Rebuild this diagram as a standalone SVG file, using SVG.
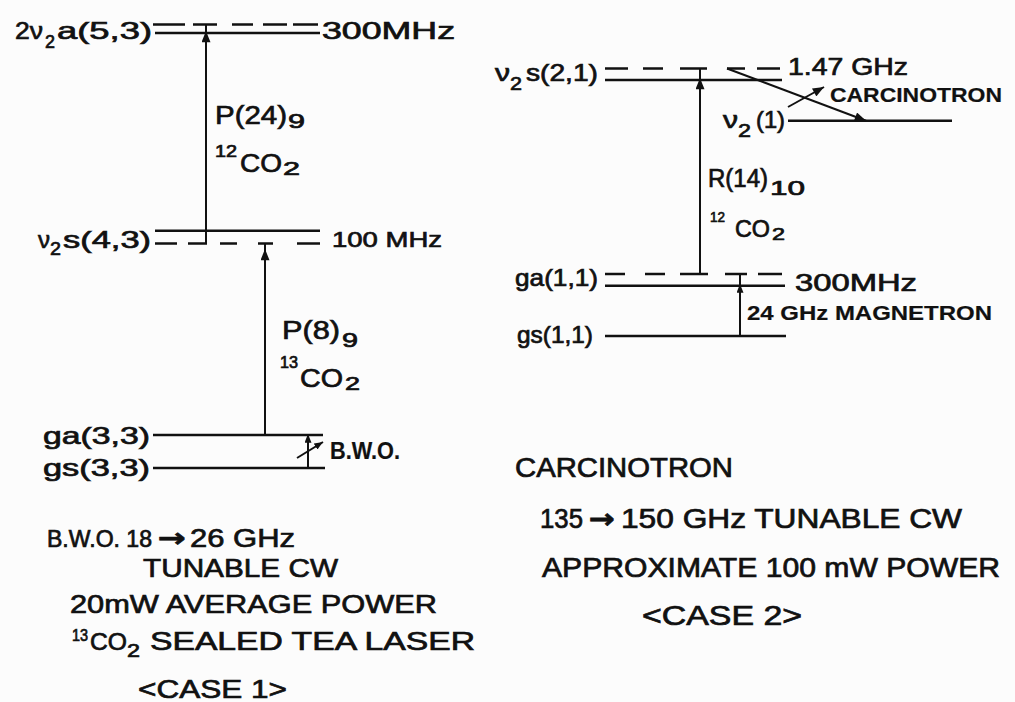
<svg xmlns="http://www.w3.org/2000/svg" width="1015" height="702" viewBox="0 0 1015 702">
<style>
  .bg { fill: #fcfcfc; }
  .lv { stroke: #111; stroke-width: 2.6; fill: none; stroke-linecap: butt; }
  .tr { stroke: #111; stroke-width: 2; fill: none; }
  text { font-family: "Liberation Sans", Arial, sans-serif; fill: #111; stroke: #111; stroke-width: 0.7; }
  .lbl { font-size: 24px; }
  .sub { font-size: 19px; }
  .trn { font-size: 26px; }
  .bld { font-size: 21px; font-weight: bold; stroke-width: 0.2; }
  .nl { font-size: 26px; }
  .nr { font-size: 27px; }
  .arw { font-family: "DejaVu Sans", sans-serif; font-weight: bold; }
</style>
<defs>
  <marker id="ah" viewBox="0 0 10 8" refX="10" refY="4" markerUnits="userSpaceOnUse" markerWidth="12" markerHeight="9" orient="auto">
    <path d="M0,0 L10,4 L0,8 z" fill="#111"/>
  </marker>
  <marker id="ahs" viewBox="0 0 10 8" refX="10" refY="4" markerUnits="userSpaceOnUse" markerWidth="9" markerHeight="7" orient="auto">
    <path d="M0,0 L10,4 L0,8 z" fill="#111"/>
  </marker>
</defs>
<rect class="bg" x="0" y="0" width="1015" height="702"/>

<!-- CASE 1 levels -->
<g id="level-2v2a53">
  <path class="lv" d="M155,33 H320"/>
  <path class="lv" d="M153,24.5 H185 M193,24.5 H217 M232,24.5 H253 M263,24.5 H287 M293,24.5 H318"/>
  <text class="lbl"><tspan x="15" y="39" textLength="28" lengthAdjust="spacingAndGlyphs">2ν</tspan><tspan class="sub" x="45" y="48" textLength="10" lengthAdjust="spacingAndGlyphs">2</tspan><tspan x="57" y="39" textLength="95" lengthAdjust="spacingAndGlyphs">a(5,3)</tspan></text>
  <text class="lbl" x="322" y="39" textLength="133" lengthAdjust="spacingAndGlyphs">300MHz</text>
</g>
<g id="level-v2s43">
  <path class="lv" d="M155,230.7 H320"/>
  <path class="lv" d="M155,243.5 H177 M188,243.5 H207 M220,243.5 H237 M258,243.5 H273 M297,243.5 H320"/>
  <text class="lbl"><tspan x="38" y="248" textLength="12" lengthAdjust="spacingAndGlyphs">ν</tspan><tspan class="sub" x="50" y="255" textLength="11" lengthAdjust="spacingAndGlyphs">2</tspan><tspan x="63" y="248" textLength="88" lengthAdjust="spacingAndGlyphs">s(4,3)</tspan></text>
  <text class="lbl" x="332" y="247" style="font-size:22px" textLength="110" lengthAdjust="spacingAndGlyphs">100 MHz</text>
</g>
<g id="level-ga33">
  <path class="lv" d="M153,435 H323"/>
  <text class="lbl" x="43" y="444" textLength="107" lengthAdjust="spacingAndGlyphs">ga(3,3)</text>
</g>
<g id="level-gs33">
  <path class="lv" d="M153,468 H325"/>
  <text class="lbl" x="43" y="476" textLength="107" lengthAdjust="spacingAndGlyphs">gs(3,3)</text>
</g>

<!-- CASE 2 levels -->
<g id="level-v2s21">
  <path class="lv" d="M605,80 H782"/>
  <path class="lv" d="M605,68.5 H628 M643,68.5 H663 M680,68.5 H707 M727,68.5 H745 M757,68.5 H780"/>
  <text class="lbl"><tspan x="495" y="81" textLength="15" lengthAdjust="spacingAndGlyphs">ν</tspan><tspan class="sub" x="510" y="90" textLength="12" lengthAdjust="spacingAndGlyphs">2</tspan><tspan x="526" y="81" textLength="72" lengthAdjust="spacingAndGlyphs">s(2,1)</tspan></text>
  <text class="lbl" x="788" y="75" textLength="120" lengthAdjust="spacingAndGlyphs">1.47 GHz</text>
</g>
<g id="level-v21">
  <path class="lv" d="M788,120.7 H952"/>
  <text class="lbl"><tspan x="723" y="128" textLength="15" lengthAdjust="spacingAndGlyphs">ν</tspan><tspan class="sub" x="738" y="137" textLength="13" lengthAdjust="spacingAndGlyphs">2</tspan><tspan x="756" y="128" textLength="29" lengthAdjust="spacingAndGlyphs">(1)</tspan></text>
</g>
<g id="level-ga11">
  <path class="lv" d="M605,285.7 H785"/>
  <path class="lv" d="M605,274 H625 M645,274 H665 M680,274 H708 M725,274 H747 M758,274 H782"/>
  <text class="lbl" x="515" y="286" textLength="83" lengthAdjust="spacingAndGlyphs">ga(1,1)</text>
  <text class="lbl" x="795" y="291" textLength="122" lengthAdjust="spacingAndGlyphs">300MHz</text>
</g>
<g id="level-gs11">
  <path class="lv" d="M605,336 H786"/>
  <text class="lbl" x="517" y="343" textLength="76" lengthAdjust="spacingAndGlyphs">gs(1,1)</text>
</g>

<!-- connectors -->
<g id="connectors">
  <!-- P(24)9 -->
  <path class="tr" d="M206,243.5 V31" marker-end="url(#ah)"/>
  <path class="tr" d="M206,33 V24.5"/>
  <!-- P(8)9 -->
  <path class="tr" d="M265,435 V249" marker-end="url(#ah)"/>
  <path class="tr" d="M265,250 V243.5"/>
  <!-- B.W.O. -->
  <path class="tr" d="M308,468 V434" marker-end="url(#ahs)"/>
  <path class="tr" d="M297,458 L323,442" marker-end="url(#ahs)"/>
  <!-- R(14)10 -->
  <path class="tr" d="M700,274 V78" marker-end="url(#ah)"/>
  <path class="tr" d="M700,80 V68.5"/>
  <!-- 24 GHz magnetron -->
  <path class="tr" d="M740,336 V284" marker-end="url(#ahs)"/>
  <path class="tr" d="M740,286 V274"/>
  <!-- carcinotron transition -->
  <path class="tr" d="M727,68.5 L866,120.7" marker-end="url(#ah)"/>
  <path class="tr" d="M788,107 L824,87" marker-end="url(#ah)"/>
</g>

<!-- connector labels -->
<g id="label-P24">
  <text class="trn"><tspan x="215" y="124" textLength="72" lengthAdjust="spacingAndGlyphs">P(24)</tspan><tspan x="288" y="128" style="font-size:20px" textLength="17" lengthAdjust="spacingAndGlyphs">9</tspan></text>
  <text class="trn"><tspan x="215" y="157" style="font-size:16px" textLength="22" lengthAdjust="spacingAndGlyphs">12</tspan><tspan x="240" y="172" textLength="42" lengthAdjust="spacingAndGlyphs">CO</tspan><tspan x="283" y="175" style="font-size:18px" textLength="17" lengthAdjust="spacingAndGlyphs">2</tspan></text>
</g>
<g id="label-P8">
  <text class="trn"><tspan x="282" y="339" textLength="58" lengthAdjust="spacingAndGlyphs">P(8)</tspan><tspan x="342" y="347" style="font-size:20px" textLength="16" lengthAdjust="spacingAndGlyphs">9</tspan></text>
  <text class="trn"><tspan x="280" y="368" style="font-size:16px" textLength="18" lengthAdjust="spacingAndGlyphs">13</tspan><tspan x="300" y="387" textLength="43" lengthAdjust="spacingAndGlyphs">CO</tspan><tspan x="345" y="390" style="font-size:18px" textLength="15" lengthAdjust="spacingAndGlyphs">2</tspan></text>
</g>
<g id="label-BWO">
  <text class="bld" x="330" y="459" style="font-size:23px" textLength="70" lengthAdjust="spacingAndGlyphs">B.W.O.</text>
</g>
<g id="label-R14">
  <text class="trn" style="font-size:25px"><tspan x="708" y="187" textLength="60" lengthAdjust="spacingAndGlyphs">R(14)</tspan><tspan x="770" y="195" style="font-size:20px" textLength="35" lengthAdjust="spacingAndGlyphs">10</tspan></text>
  <text class="trn" style="font-size:24px"><tspan x="710" y="222" style="font-size:15px" textLength="15" lengthAdjust="spacingAndGlyphs">12</tspan><tspan x="735" y="237" textLength="35" lengthAdjust="spacingAndGlyphs">CO</tspan><tspan x="772" y="240" style="font-size:17px" textLength="13" lengthAdjust="spacingAndGlyphs">2</tspan></text>
</g>
<g id="label-carcinotron-arrow">
  <text class="bld" x="830" y="102" textLength="172" lengthAdjust="spacingAndGlyphs">CARCINOTRON</text>
</g>
<g id="label-magnetron">
  <text class="bld" x="747" y="320" textLength="245" lengthAdjust="spacingAndGlyphs">24 GHz MAGNETRON</text>
</g>

<!-- CASE 1 notes -->
<g id="notes-case1">
  <text class="nl"><tspan x="47" y="547" style="font-size:23px" textLength="105" lengthAdjust="spacingAndGlyphs">B.W.O. 18</tspan><tspan class="arw" x="158" y="547" textLength="28" lengthAdjust="spacingAndGlyphs">→</tspan><tspan x="190" y="547" textLength="105" lengthAdjust="spacingAndGlyphs">26 GHz</tspan></text>
  <text class="nl" x="143" y="577" textLength="195" lengthAdjust="spacingAndGlyphs">TUNABLE CW</text>
  <text class="nl" x="70" y="613" textLength="367" lengthAdjust="spacingAndGlyphs">20mW AVERAGE POWER</text>
  <text class="nl"><tspan x="72" y="641" style="font-size:16px" textLength="16" lengthAdjust="spacingAndGlyphs">13</tspan><tspan x="90" y="650" style="font-size:24px" textLength="37" lengthAdjust="spacingAndGlyphs">CO</tspan><tspan x="127" y="657" style="font-size:18px" textLength="13" lengthAdjust="spacingAndGlyphs">2</tspan><tspan x="150" y="650" style="font-size:25px" textLength="325" lengthAdjust="spacingAndGlyphs">SEALED TEA LASER</tspan></text>
  <text class="nl" x="138" y="698" textLength="149" lengthAdjust="spacingAndGlyphs">&lt;CASE 1&gt;</text>
</g>

<!-- CASE 2 notes -->
<g id="notes-case2">
  <text class="nr" x="515" y="477" textLength="218" lengthAdjust="spacingAndGlyphs">CARCINOTRON</text>
  <text class="nr"><tspan x="540" y="528" textLength="43" lengthAdjust="spacingAndGlyphs">135</tspan><tspan class="arw" x="589" y="528" textLength="26" lengthAdjust="spacingAndGlyphs">→</tspan><tspan x="621" y="528" textLength="341" lengthAdjust="spacingAndGlyphs">150 GHz TUNABLE CW</tspan></text>
  <text class="nr" x="542" y="577" textLength="458" lengthAdjust="spacingAndGlyphs">APPROXIMATE 100 mW POWER</text>
  <text class="nr" x="642" y="625" textLength="160" lengthAdjust="spacingAndGlyphs">&lt;CASE 2&gt;</text>
</g>
</svg>
